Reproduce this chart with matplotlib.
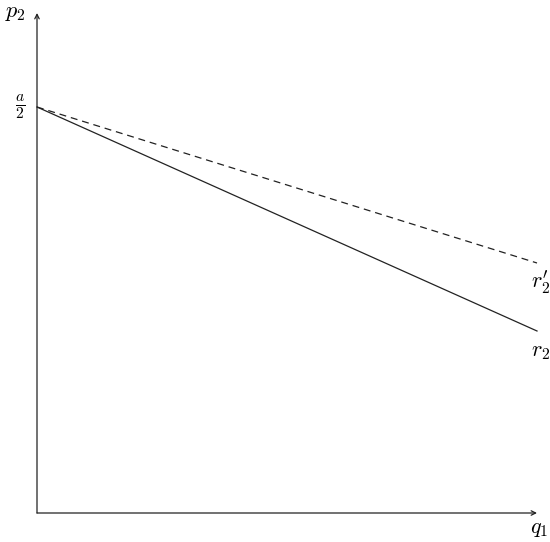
import matplotlib
matplotlib.use("Agg")
import matplotlib.pyplot as plt

plt.rcParams['mathtext.fontset'] = 'cm'
plt.rcParams['lines.scale_dashes'] = False

# data (axis units 0..10)
q1 = [0, 10]
r2 = [8.12, 3.64]
r2_prime = [8.12, 5.0]
a_half = 8.12

fig = plt.figure(figsize=(5.5, 5.42), dpi=100)
ax = fig.add_axes([37/550, 29/542, 500/550, 500/542])
ax.set_xlim(0, 10)
ax.set_ylim(0, 10)
ax.axis('off')

lw = 0.9
ax.plot(q1, r2, color='#222222', lw=lw, clip_on=False)
ax.plot(q1, r2_prime, color='#222222', lw=lw, dashes=(5, 3.5), clip_on=False)

arrow = dict(arrowstyle='->', lw=lw, color='#222222', shrinkA=0, shrinkB=0,
             mutation_scale=8)
ax.annotate('', xy=(0, 10), xytext=(0, 0), arrowprops=arrow, annotation_clip=False)
ax.annotate('', xy=(10, 0), xytext=(0, 0), arrowprops=arrow, annotation_clip=False)

fs = 16
ax.text(-0.44, 10.0, r'$p_2$', fontsize=fs, ha='center', va='center')
ax.text(10.04, -0.32, r'$q_1$', fontsize=fs, ha='center', va='center')
ax.text(-0.34, a_half, r'$\frac{a}{2}$', fontsize=fs, ha='center', va='center')
ax.text(10.07, 4.62, r"$r_2'$", fontsize=fs, ha='center', va='center')
ax.text(10.07, 3.22, r'$r_2$', fontsize=fs, ha='center', va='center')

fig.savefig('out.png', dpi=100)
